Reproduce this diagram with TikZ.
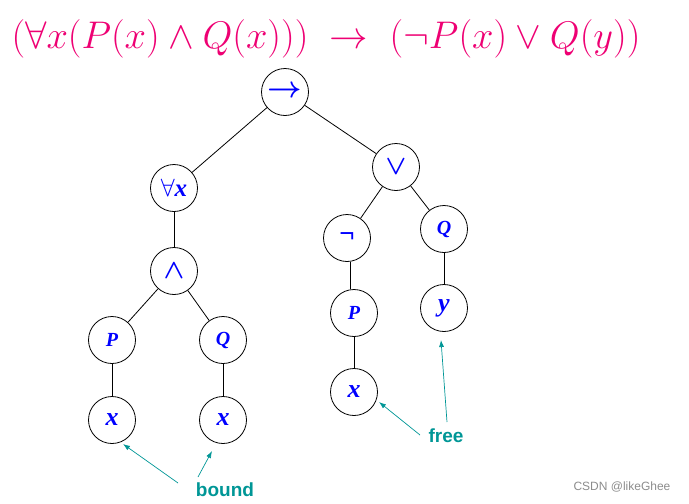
\RequirePackage{fix-cm}
\documentclass[tikz,border=0pt]{standalone}
\usepackage{bm}
\usepackage[no-math]{fontspec}
\newfontfamily\lblfont{Liberation Serif}
\newfontfamily\notefont{Liberation Sans}
\usetikzlibrary{arrows.meta}
\definecolor{formula}{RGB}{238,0,115}
\definecolor{note}{RGB}{0,150,150}
\definecolor{sym}{RGB}{0,0,255}

\begin{document}
\begin{tikzpicture}[x=1pt,y=-1pt,>={Latex[length=7pt,width=5pt]},line width=0.8pt,
  tnode/.style={draw,circle,minimum size=47pt,inner sep=0pt,text=sym,
    font=\lblfont\bfseries\itshape\fontsize{20}{20}\selectfont},
  leaf/.style={tnode,font=\lblfont\bfseries\itshape\fontsize{26}{26}\selectfont},
  opnode/.style={tnode,font=\fontsize{27}{27}\selectfont},
  pointer/.style={->,note,line width=0.7pt},
  notelabel/.style={text=note,inner sep=0pt,font=\notefont\bfseries\fontsize{19}{19}\selectfont}]
\useasboundingbox (0,0) rectangle (689,504);
% formula
\node[text=formula,inner sep=0pt,font=\fontsize{38.5}{38.5}\selectfont] (title) at (326,39)
  {$(\forall x(P(x)\wedge Q(x)))\;\rightarrow\;(\neg P(x)\vee Q(y))$};
% tree
\node[opnode,font=\fontsize{30}{30}\selectfont] (imp) at (285,92) {$\bm{\rightarrow}$};
\node[tnode,font=\lblfont\bfseries\itshape\fontsize{25}{25}\selectfont] (fa) at (174,188) {$\forall$x};
\node[opnode] (or) at (396,167) {$\bm{\vee}$};
\node[opnode] (and) at (174,271) {$\bm{\wedge}$};
\node[tnode,font=\lblfont\bfseries\fontsize{27}{27}\selectfont] (neg) at (347,238) {¬};
\node[tnode] (qr) at (444,229) {Q};
\node[tnode] (pl) at (112,340) {P};
\node[tnode] (ql) at (223,340) {Q};
\node[tnode] (pm) at (354,313) {P};
\node[leaf] (yv) at (444,308) {y};
\node[leaf] (xl) at (112,420) {x};
\node[leaf] (xr) at (223,420) {x};
\node[leaf] (xm) at (354,392) {x};
\foreach \a/\b in {imp/fa,imp/or,fa/and,and/pl,and/ql,pl/xl,ql/xr,or/neg,or/qr,pm/xm,qr/yv}
  \draw (\a) -- (\b);
\draw ([xshift=3pt]neg.south) -- ([xshift=-4pt]pm.north);
% notes
\node[notelabel] (bound) at (225,490) {bound};
\node[notelabel] (free) at (446,436) {free};
\draw[pointer] ([shift={(-47,-7)}]bound.center) -- ([shift={(11,24)}]xl.center);
\draw[pointer] ([shift={(-27,-13)}]bound.center) -- ([shift={(-11,31)}]xr.center);
\draw[pointer] ([shift={(-26,-1)}]free.center) -- ([shift={(25,10)}]xm.center);
\draw[pointer] ([shift={(1,-14)}]free.center) -- ([shift={(-3,32)}]yv.center);
\node[text=black!45,inner sep=0pt,font=\notefont\fontsize{12}{12}\selectfont] (mark) at (622,487) {CSDN @likeGhee};
\end{tikzpicture}
\end{document}
